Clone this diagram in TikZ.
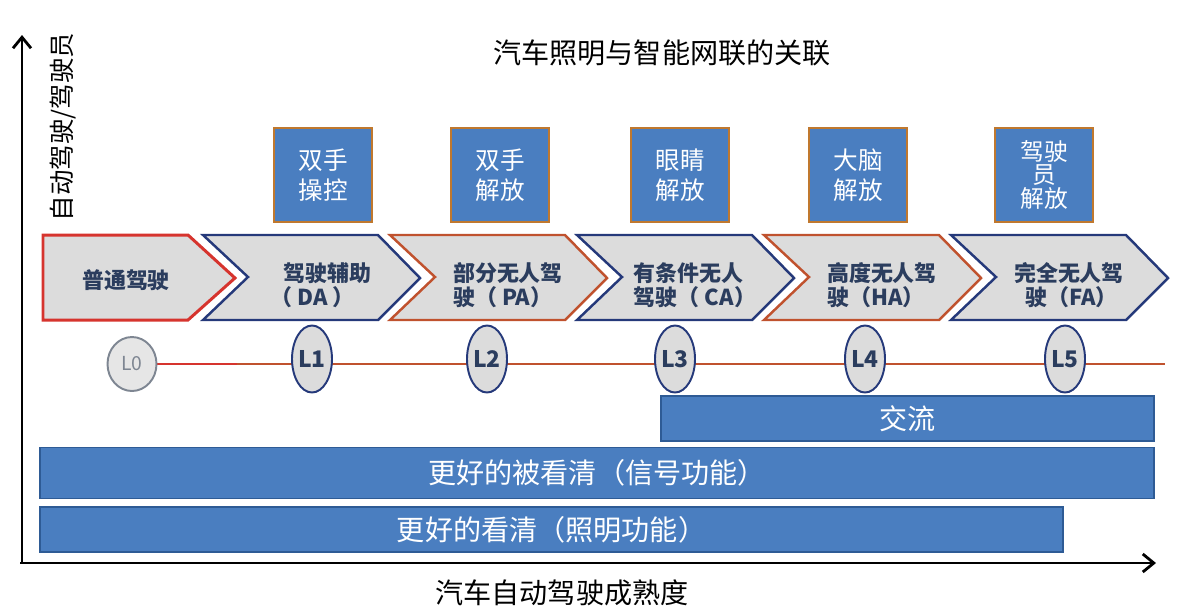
\documentclass[tikz,border=0pt]{standalone}
\usepackage{fontspec}
\setmainfont{Noto Sans CJK SC}
\usetikzlibrary{arrows.meta, positioning, shapes, backgrounds}

\definecolor{barblue}{HTML}{4A7EC0}
\definecolor{bardark}{HTML}{2E5B95}
\definecolor{boxedge}{HTML}{C0782E}
\definecolor{chevfill}{HTML}{DCDCDC}
\definecolor{navy}{HTML}{25397A}
\definecolor{lred}{HTML}{D6342E}
\definecolor{rust}{HTML}{C0522E}
\definecolor{chevtext}{HTML}{2B3D5E}
\definecolor{lvlgray}{HTML}{7E8692}

\begin{document}
\begin{tikzpicture}[x=0.02cm, y=-0.02cm,
    handbox/.style={rectangle, draw=boxedge, line width=1.4pt, fill=barblue, text=white,
        minimum width=1.96cm, minimum height=1.88cm, inner sep=0pt, align=center,
        font=\fontsize{14}{17}\selectfont},
    chev/.style={fill=chevfill, line width=1.4pt, line join=miter},
    chevlabel/.style={text=chevtext, font=\bfseries\fontsize{12.5}{13.6}\selectfont,
        align=left, inner sep=0pt},
    level/.style={ellipse, draw=navy, fill=chevfill, line width=1.1pt, minimum width=0.8cm,
        minimum height=1.34cm, inner sep=0pt, text=chevtext, font=\bfseries\fontsize{13}{14}\selectfont},
    bar/.style={rectangle, draw=bardark, line width=0.9pt, fill=barblue, text=white,
        inner sep=0pt, minimum height=0.9cm, font=\fontsize{16}{18}\selectfont},
    axis/.style={line width=1.6pt, -{Straight Barb[length=2.2mm, width=3.6mm]}}]
    \useasboundingbox (0,0) rectangle (1200,613);

    % axes
    \coordinate (origin) at (20,563);
    \coordinate (ytip) at (22,35);
    \coordinate (xtip) at (1156,563);
    \draw[axis] (origin -| ytip) -- (ytip);
    \draw[axis] (origin) -- (xtip);
    \node (ylabel) at (63,127) [rotate=90, font=\fontsize{14.5}{16}\selectfont] {自动驾驶/驾驶员};
    \node (xlabel) at (562,593) [font=\fontsize{16}{18}\selectfont] {汽车自动驾驶成熟度};
    \node (title) at (662,53) [font=\fontsize{16}{18}\selectfont] {汽车照明与智能网联的关联};

    % driver freedom
    \node (hands) at (323,175) [handbox] {双手\\操控};
    \node (handsfree) at (500,175) [handbox] {双手\\解放};
    \node (eyes) at (680,175) [handbox] {眼睛\\解放};
    \node (brain) at (858,175) [handbox] {大脑\\解放};
    \node (driver) at (1044,175) [handbox, font=\fontsize{13.5}{13.5}\selectfont] {驾驶\\员\\解放};

    % stages
    \draw[chev, draw=lred, line width=1.7pt] (43,235) -- (188,235) -- (235,278) -- (188,320) -- (43,320) -- cycle;
    \node (chev0) at (126,280) [chevlabel] {普通驾驶};
    \foreach \i/\edge/\tx [evaluate=\i as \L using 203+187*(\i-1)] in
        {1/navy/{\hspace*{0.6em}驾驶辅助\\（ DA ）}, 2/rust/{部分无人驾\\驶（ PA）},
         3/navy/{ 有条件无人\\驾驶（ CA）}, 4/rust/{高度无人驾\\驶（HA）},
         5/navy/{完全无人驾\\\hspace*{0.5em}驶（FA）}}{
        \draw[chev, draw=\edge] (\L,235) -- ++(175,0) -- ++(42,43) -- ++(-42,42)
            -- ++(-175,0) -- ++(45,-43) -- cycle;
        \node (chev\i) at (\L+118,285) [chevlabel] {\tx};
    }

    % levels
    \node (L0) at (132,364) [level, draw=lvlgray, fill=chevfill!70, minimum width=0.98cm,
        minimum height=1.08cm, text=lvlgray, font=\fontsize{11}{12}\selectfont] {L0};
    \node (L1) at (312,359) [level] {L1};
    \node (L2) at (487,359) [level] {L2};
    \node (L3) at (675,359) [level] {L3};
    \node (L4) at (865,359) [level] {L4};
    \node (L5) at (1065,359) [level] {L5};
    \coordinate (redend) at (237,364);
    \coordinate (lineend) at (1165,364);
    \begin{scope}[on background layer]
        \draw[lred, line width=1.3pt] (L0.east) -- (redend);
        \draw[rust, line width=1.3pt] (redend) -- (lineend);
    \end{scope}

    % lighting functions
    \node (talk) at (907.5,418.5) [bar, minimum width=9.86cm] {交流};
    \node (signal) at (597,473) [bar, minimum width=22.28cm, minimum height=1.02cm] {更好的被看清（信号功能）};
    \node (light) at (551.5,529.5) [bar, minimum width=20.46cm] {更好的看清（照明功能）};
\end{tikzpicture}
\end{document}
